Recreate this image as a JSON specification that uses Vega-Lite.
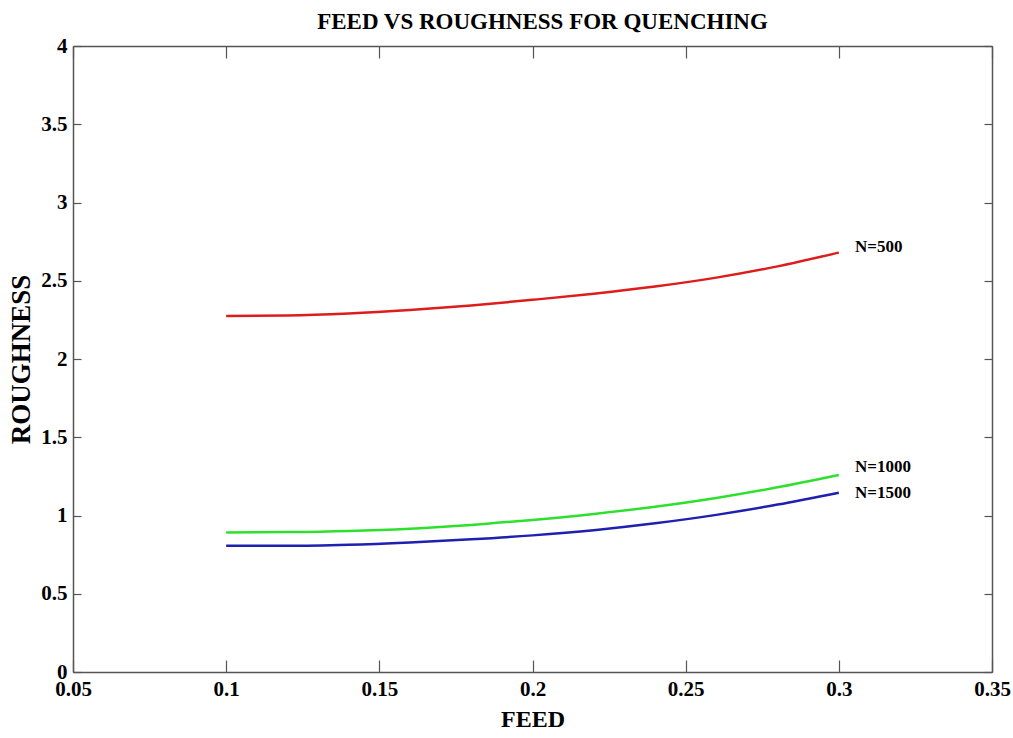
{
  "$schema": "https://vega.github.io/schema/vega-lite/v6.json",
  "width": 919,
  "height": 626,
  "autosize": {"type": "none"},
  "padding": {"left": 73, "top": 46, "right": 21, "bottom": 66},
  "background": "white",
  "title": {"text": "FEED VS ROUGHNESS FOR QUENCHING", "font": "Liberation Serif", "fontSize": 23, "fontWeight": "bold", "color": "#000000", "anchor": "middle", "offset": 1, "dx": 10},
  "config": {
    "view": {"stroke": null},
    "axis": {"domainColor": "#555555", "domainWidth": 1.5, "tickColor": "#555555", "tickWidth": 1.2, "grid": false, "labelFont": "Liberation Serif", "labelFontWeight": "bold", "labelFontSize": 21, "labelColor": "#000000", "titleFont": "Liberation Serif", "titleFontWeight": "bold", "titleColor": "#000000", "labelOverlap": false, "labelFlush": false}
  },
  "datasets": {
    "curves": [
      {"feed": 0.10, "roughness": 2.275, "series": "N=500"},
      {"feed": 0.12, "roughness": 2.278, "series": "N=500"},
      {"feed": 0.14, "roughness": 2.291, "series": "N=500"},
      {"feed": 0.16, "roughness": 2.313, "series": "N=500"},
      {"feed": 0.18, "roughness": 2.342, "series": "N=500"},
      {"feed": 0.20, "roughness": 2.378, "series": "N=500"},
      {"feed": 0.22, "roughness": 2.417, "series": "N=500"},
      {"feed": 0.24, "roughness": 2.463, "series": "N=500"},
      {"feed": 0.26, "roughness": 2.52, "series": "N=500"},
      {"feed": 0.28, "roughness": 2.592, "series": "N=500"},
      {"feed": 0.30, "roughness": 2.68, "series": "N=500"},
      {"feed": 0.10, "roughness": 0.892, "series": "N=1000"},
      {"feed": 0.12, "roughness": 0.894, "series": "N=1000"},
      {"feed": 0.14, "roughness": 0.901, "series": "N=1000"},
      {"feed": 0.16, "roughness": 0.916, "series": "N=1000"},
      {"feed": 0.18, "roughness": 0.94, "series": "N=1000"},
      {"feed": 0.20, "roughness": 0.972, "series": "N=1000"},
      {"feed": 0.22, "roughness": 1.01, "series": "N=1000"},
      {"feed": 0.24, "roughness": 1.056, "series": "N=1000"},
      {"feed": 0.26, "roughness": 1.112, "series": "N=1000"},
      {"feed": 0.28, "roughness": 1.18, "series": "N=1000"},
      {"feed": 0.30, "roughness": 1.259, "series": "N=1000"},
      {"feed": 0.10, "roughness": 0.806, "series": "N=1500"},
      {"feed": 0.12, "roughness": 0.806, "series": "N=1500"},
      {"feed": 0.14, "roughness": 0.813, "series": "N=1500"},
      {"feed": 0.16, "roughness": 0.828, "series": "N=1500"},
      {"feed": 0.18, "roughness": 0.848, "series": "N=1500"},
      {"feed": 0.20, "roughness": 0.873, "series": "N=1500"},
      {"feed": 0.22, "roughness": 0.906, "series": "N=1500"},
      {"feed": 0.24, "roughness": 0.95, "series": "N=1500"},
      {"feed": 0.26, "roughness": 1.004, "series": "N=1500"},
      {"feed": 0.28, "roughness": 1.07, "series": "N=1500"},
      {"feed": 0.30, "roughness": 1.146, "series": "N=1500"}
    ],
    "labels": [
      {"feed": 0.3053, "roughness": 2.718, "label": "N=500"},
      {"feed": 0.3053, "roughness": 1.312, "label": "N=1000"},
      {"feed": 0.3053, "roughness": 1.142, "label": "N=1500"}
    ]
  },
  "layer": [
    {
      "data": {"name": "curves"},
      "mark": {"type": "line", "strokeWidth": 2.5, "interpolate": "monotone"},
      "encoding": {
        "x": {"field": "feed", "type": "quantitative", "scale": {"domain": [0.05, 0.35], "nice": false, "zero": false},
          "axis": {"orient": "bottom", "values": [0.05, 0.1, 0.15, 0.2, 0.25, 0.3, 0.35], "format": "~g", "tickSize": -12, "labelPadding": 18, "title": "FEED", "titleFontSize": 24, "titlePadding": 8}},
        "y": {"field": "roughness", "type": "quantitative", "scale": {"domain": [0, 4], "nice": false},
          "axis": {"orient": "left", "values": [0, 0.5, 1, 1.5, 2, 2.5, 3, 3.5, 4], "format": "~g", "tickSize": -8, "labelPadding": 14, "title": "ROUGHNESS", "titleFontSize": 27, "titlePadding": 5}},
        "color": {"field": "series", "type": "nominal", "scale": {"domain": ["N=500", "N=1000", "N=1500"], "range": ["#dd1c1c", "#2ee02e", "#1f1fb0"]}, "legend": null}
      }
    },
    {
      "data": {"name": "labels"},
      "mark": {"type": "text", "align": "left", "baseline": "middle", "font": "Liberation Serif", "fontSize": 17, "fontWeight": "bold", "color": "#000000"},
      "encoding": {
        "x": {"field": "feed", "type": "quantitative", "scale": {"domain": [0.05, 0.35], "nice": false, "zero": false},
          "axis": {"orient": "top", "values": [0.05, 0.1, 0.15, 0.2, 0.25, 0.3, 0.35], "labels": false, "title": null, "tickSize": -12}},
        "y": {"field": "roughness", "type": "quantitative", "scale": {"domain": [0, 4], "nice": false},
          "axis": {"orient": "right", "values": [0, 0.5, 1, 1.5, 2, 2.5, 3, 3.5, 4], "labels": false, "title": null, "tickSize": -8}},
        "text": {"field": "label"}
      }
    }
  ],
  "resolve": {"axis": {"x": "independent", "y": "independent"}}
}
